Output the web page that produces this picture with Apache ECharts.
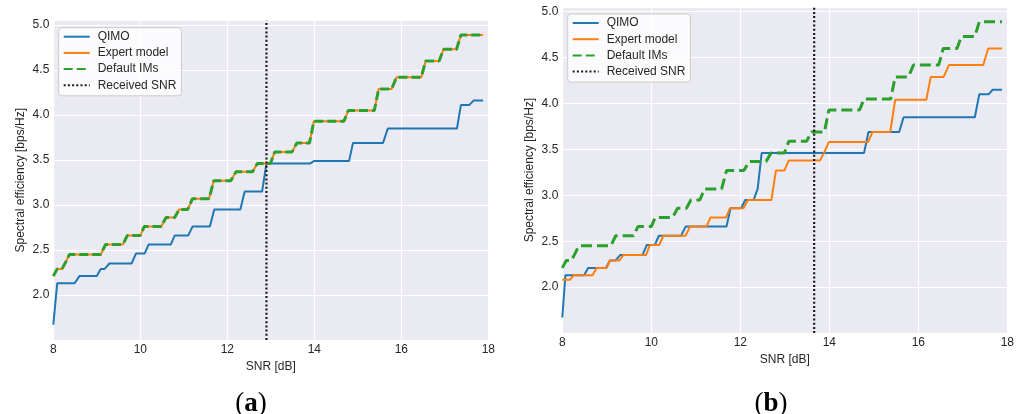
<!DOCTYPE html>
<html>
<head>
<meta charset="utf-8">
<script src="https://cdn.jsdelivr.net/npm/echarts@6/dist/echarts.min.js"></script>
<style>
html,body{margin:0;padding:0;background:#fff;}
#chart{width:1022px;height:414px;}
</style>
</head>
<body>
<div id="chart"></div>
<script>
// ---- Data (x = SNR [dB], y = spectral efficiency [bps/Hz]) ----
const xTicks = [8, 10, 12, 14, 16, 18];
const yTicks = [2.0, 2.5, 3.0, 3.5, 4.0, 4.5, 5.0];

// Default IMs (same in both panels)
const defaultIMs = [[8.0,2.21],[8.09,2.29],[8.2,2.29],[8.28,2.36],[8.37,2.45],[9.09,2.45],[9.2,2.56],[9.6,2.56],[9.7,2.66],[10.0,2.66],[10.09,2.76],[10.48,2.76],[10.59,2.86],[10.79,2.86],[10.89,2.95],[11.09,2.95],[11.2,3.07],[11.58,3.07],[11.69,3.27],[12.08,3.27],[12.2,3.37],[12.58,3.37],[12.69,3.46],[12.99,3.46],[13.09,3.59],[13.49,3.59],[13.6,3.69],[13.89,3.69],[13.99,3.93],[14.68,3.93],[14.78,4.05],[15.38,4.05],[15.48,4.29],[15.78,4.29],[15.89,4.42],[16.46,4.42],[16.56,4.60],[16.87,4.60],[16.97,4.73],[17.27,4.73],[17.37,4.89],[17.88,4.89]];

// Panel (a)
const qimoA = [[8.0,1.67],[8.09,2.13],[8.49,2.13],[8.6,2.21],[9.0,2.21],[9.09,2.29],[9.18,2.29],[9.29,2.35],[9.8,2.35],[9.9,2.46],[10.1,2.46],[10.19,2.56],[10.7,2.56],[10.79,2.66],[11.1,2.66],[11.2,2.76],[11.6,2.76],[11.7,2.95],[12.3,2.95],[12.4,3.15],[12.8,3.15],[12.9,3.46],[13.9,3.46],[14.0,3.49],[14.8,3.49],[14.89,3.69],[15.58,3.69],[15.69,3.85],[17.28,3.85],[17.37,4.11],[17.56,4.11],[17.66,4.16],[17.88,4.16]];
const expertA = defaultIMs;
const receivedSnrA = 12.9;

// Panel (b)
const qimoB = [[8.0,1.67],[8.07,2.13],[8.49,2.13],[8.58,2.21],[8.98,2.21],[9.07,2.29],[9.19,2.29],[9.3,2.35],[9.8,2.35],[9.9,2.46],[10.08,2.46],[10.17,2.56],[10.67,2.56],[10.77,2.66],[11.69,2.66],[11.78,2.86],[12.02,2.86],[12.11,2.95],[12.3,2.95],[12.39,3.07],[12.48,3.46],[14.78,3.46],[14.88,3.69],[15.57,3.69],[15.67,3.85],[17.27,3.85],[17.37,4.10],[17.58,4.10],[17.67,4.15],[17.88,4.15]];
const expertB = [[8.0,2.08],[8.17,2.08],[8.26,2.13],[8.68,2.13],[8.77,2.21],[9.0,2.21],[9.07,2.29],[9.28,2.29],[9.37,2.35],[9.88,2.35],[9.97,2.46],[10.18,2.46],[10.27,2.56],[10.77,2.56],[10.87,2.66],[11.24,2.66],[11.33,2.76],[11.68,2.76],[11.77,2.86],[12.07,2.86],[12.17,2.95],[12.7,2.95],[12.8,3.27],[12.99,3.27],[13.09,3.38],[13.79,3.38],[13.88,3.46],[13.99,3.58],[14.87,3.58],[14.97,3.69],[15.37,3.69],[15.48,4.04],[16.18,4.04],[16.28,4.29],[16.57,4.29],[16.69,4.42],[17.46,4.42],[17.57,4.60],[17.88,4.60]];
const receivedSnrB = 13.66;

const seriesNames = ['QIMO', 'Expert model', 'Default IMs', 'Received SNR'];
const yMin = 1.5, yMax = 5.05;

const FONT = "'Liberation Sans', Arial, sans-serif";
const TXT = '#262626';
const C_BLUE = '#1f77b4', C_ORANGE = '#ff7f0e', C_GREEN = '#2ca02c';

function xAxisDef(gi, gap) {
  return {
    type: 'value', gridIndex: gi, min: xTicks[0], max: xTicks[xTicks.length-1], interval: 2,
    name: 'SNR [dB]', nameLocation: 'middle', nameGap: gap,
    nameTextStyle: {fontFamily: FONT, fontSize: 12, color: TXT},
    axisLine: {show: false}, axisTick: {show: false},
    axisLabel: {fontFamily: FONT, fontSize: 12, color: TXT, margin: 4},
    splitLine: {show: true, lineStyle: {color: '#ffffff', width: 1.2}}
  };
}
function yAxisDef(gi) {
  return {
    type: 'value', gridIndex: gi, min: yMin, max: yMax, interval: 0.5,
    name: 'Spectral efficiency [bps/Hz]', nameLocation: 'middle', nameGap: 27,
    nameTextStyle: {fontFamily: FONT, fontSize: 12, color: TXT},
    axisLine: {show: false}, axisTick: {show: false},
    axisLabel: {fontFamily: FONT, fontSize: 12, color: TXT, margin: 4,
      showMinLabel: false, showMaxLabel: false,
      formatter: v => (yTicks.some(t => Math.abs(t - v) < 1e-6) ? v.toFixed(1) : '')},
    splitLine: {show: true, lineStyle: {color: '#ffffff', width: 1.2}}
  };
}
function lineSeries(name, gi, data, color, width, type) {
  return {
    name, type: 'line', xAxisIndex: gi, yAxisIndex: gi, data,
    showSymbol: false, symbol: 'none', animation: false, silent: true,
    lineStyle: {color, width, type: type || 'solid'},
    itemStyle: {color}
  };
}
function snrLine(gi, x) {
  return lineSeries('Received SNR', gi, [[x, yMin], [x, yMax]], '#1a1a1a', 2.2, [2, 2.2]);
}
function legendDef(left, top) {
  return {
    data: seriesNames, orient: 'vertical', left, top,
    itemWidth: 26, itemHeight: 12, itemGap: 4.2,
    padding: [3, 5, 4.5, 4],
    backgroundColor: 'rgba(255,255,255,0.8)', borderColor: '#cccccc', borderWidth: 1, borderRadius: 3,
    itemStyle: {opacity: 0},
    textStyle: {fontFamily: FONT, fontSize: 12, color: TXT, padding: [0, 0, 0, 3]},
    selectedMode: false
  };
}

const chart = echarts.init(document.getElementById('chart'), null, {renderer: 'canvas'});
chart.setOption({
  backgroundColor: '#ffffff',
  animation: false,
  grid: [
    {left: 53.3, width: 435, top: 20.5, height: 319.5, show: true, backgroundColor: '#EAEAF2', borderWidth: 0},
    {left: 562.3, width: 445, top: 7.1, height: 326, show: true, backgroundColor: '#EAEAF2', borderWidth: 0}
  ],
  xAxis: [xAxisDef(0, 16), xAxisDef(1, 17)],
  yAxis: [yAxisDef(0), yAxisDef(1)],
  legend: [legendDef(58.7, 27.7), legendDef(567.7, 14)],
  series: [
    lineSeries('QIMO', 0, qimoA, C_BLUE, 2),
    lineSeries('Expert model', 0, expertA, C_ORANGE, 2),
    lineSeries('Default IMs', 0, defaultIMs, C_GREEN, 3, [9, 4]),
    snrLine(0, receivedSnrA),
    lineSeries('QIMO', 1, qimoB, C_BLUE, 2),
    lineSeries('Expert model', 1, expertB, C_ORANGE, 2),
    lineSeries('Default IMs', 1, defaultIMs, C_GREEN, 3, [11, 5]),
    snrLine(1, receivedSnrB)
  ],
  graphic: [
    {type: 'text', x: 251, y: 404, style: {text: '({b|a})', textAlign: 'center', textVerticalAlign: 'middle',
      font: "27px 'Liberation Serif', serif", fill: '#000', rich: {b: {fontWeight: 'bold', fontSize: 27, fontFamily: "'Liberation Serif', serif"}}}},
    {type: 'text', x: 771, y: 404, style: {text: '({b|b})', textAlign: 'center', textVerticalAlign: 'middle',
      font: "27px 'Liberation Serif', serif", fill: '#000', rich: {b: {fontWeight: 'bold', fontSize: 27, fontFamily: "'Liberation Serif', serif"}}}}
  ]
});
</script>
</body>
</html>
